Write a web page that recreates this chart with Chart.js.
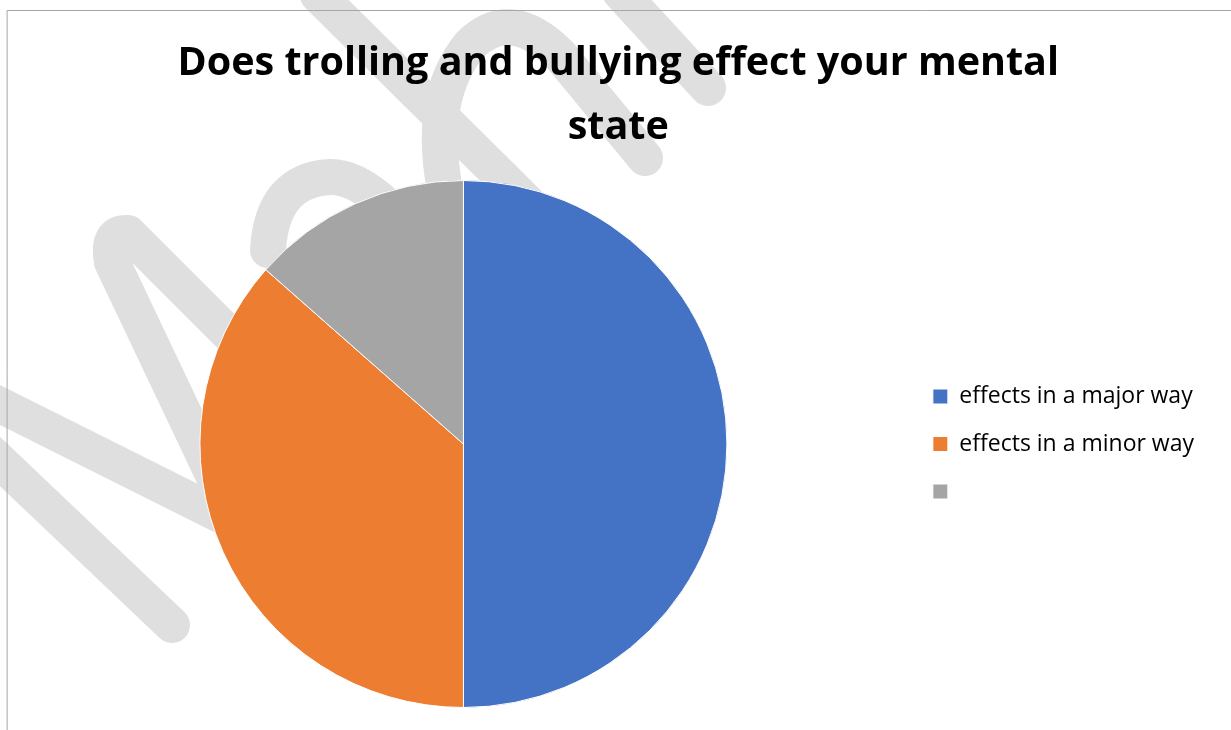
<!DOCTYPE html>
<html>
<head>
<meta charset="utf-8">
<title>Does trolling and bullying effect your mental state</title>
<script src="https://cdn.jsdelivr.net/npm/chart.js@4.4.1/dist/chart.umd.min.js"></script>
<style>
  html, body { margin: 0; padding: 0; background: #fff; }
  #wrap { width: 1231px; height: 730px; position: relative; }
</style>
</head>
<body>
<div id="wrap"><canvas id="pieChart"></canvas></div>
<script>
// ---- data ----
const categories = ['effects in a major way', 'effects in a minor way', ''];
const shares = [50, 36.5, 13.5];
const sliceColors = ['#4472C4', '#ED7D31', '#A5A5A5'];
const titleLines = ['Does trolling and bullying effect your mental', 'state'];

// ---- watermark strokes (background decoration) ----
const watermark = [
  [[225, 500], [112, 262], ['q', 106, 232, 128, 233], [265, 370]],
  [[-10, 400], [260, 535]],
  [[-10, 452], [172, 625]],
  [[268, 250], ['q', 272, 180, 330, 177], ['q', 375, 176, 440, 270]],
  [[318, -5], [530, 205]],
  [[447, 200], ['q', 425, 100, 470, 45], ['q', 510, 5, 560, 55], [645, 158]],
  [[620, -8], [708, 88]]
];

const backdrop = {
  id: 'backdrop',
  // title is centred over the whole frame, not just the space left of the legend
  afterLayout(chart) {
    const t = chart.titleBlock;
    if (t) { t.left += 7; t.right += 7; }
  },
  beforeDraw(chart) {
    const ctx = chart.ctx;
    ctx.save();
    ctx.fillStyle = '#ffffff';
    ctx.fillRect(0, 0, chart.width, chart.height);

    ctx.strokeStyle = '#dfdfdf';
    ctx.lineWidth = 36;
    ctx.lineCap = 'round';
    ctx.lineJoin = 'round';
    watermark.forEach(path => {
      ctx.beginPath();
      path.forEach((p, i) => {
        if (p[0] === 'q') ctx.quadraticCurveTo(p[1], p[2], p[3], p[4]);
        else if (i === 0) ctx.moveTo(p[0], p[1]);
        else ctx.lineTo(p[0], p[1]);
      });
      ctx.stroke();
    });

    // chart frame, runs off the right and bottom edges
    ctx.strokeStyle = '#a6a6a6';
    ctx.lineWidth = 1;
    ctx.strokeRect(7.5, 10.5, chart.width + 20, chart.height + 20);
    ctx.restore();
  }
};

new Chart(document.getElementById('pieChart'), {
  type: 'pie',
  data: {
    labels: categories,
    datasets: [{
      data: shares,
      backgroundColor: sliceColors,
      borderColor: '#ffffff',
      borderWidth: 1
    }]
  },
  plugins: [backdrop],
  options: {
    responsive: true,
    maintainAspectRatio: false,
    animation: false,
    layout: { padding: { top: 10, left: 18.5, right: 27, bottom: 22 } },
    plugins: {
      title: {
        display: true,
        text: titleLines,
        color: '#000',
        font: { family: "'Open Sans', sans-serif", size: 39.5, weight: 'bold', lineHeight: 63.5 / 39.5 },
        padding: { top: 22, bottom: 21 }
      },
      legend: {
        position: 'right',
        align: 'center',
        fullSize: false,
        labels: {
          color: '#000',
          boxWidth: 15,
          boxHeight: 15,
          padding: 24.5,
          font: { family: "'Open Sans', sans-serif", size: 23, lineHeight: 1.2 }
        }
      },
      tooltip: { enabled: false }
    }
  }
});
</script>
</body>
</html>
